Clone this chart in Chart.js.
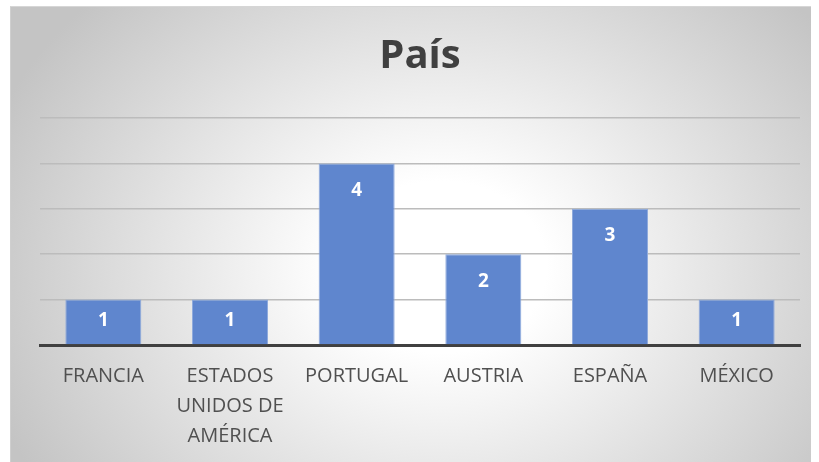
<!DOCTYPE html>
<html>
<head>
<meta charset="utf-8">
<script src="https://cdn.jsdelivr.net/npm/chart.js@4.4.1/dist/chart.umd.min.js"></script>
<style>
  html, body { margin: 0; padding: 0; background: #ffffff; width: 819px; height: 462px; overflow: hidden; }
  #box {
    position: absolute; left: 10px; top: 6px; width: 801px; height: 456px;
    border-left: 1px solid #cfcfcf; border-top: 1px solid #d6d6d6;
    box-sizing: border-box;
    background: radial-gradient(ellipse 480px 390px at 430px 260px, #ffffff 22%, #c4c4c4 100%);
  }
  canvas { display: block; }
</style>
</head>
<body>
<div id="box"><canvas id="c" width="800" height="455"></canvas></div>
<script>
const categories = ["FRANCIA", ["ESTADOS", "UNIDOS DE", "AMÉRICA"], "PORTUGAL", "AUSTRIA", "ESPAÑA", "MÉXICO"];
const values = [1, 1, 4, 2, 3, 1];
const titleText = "País";

const labelPlugin = {
  id: 'barLabels',
  afterDatasetsDraw(chart) {
    const ctx = chart.ctx;
    const meta = chart.getDatasetMeta(0);
    ctx.save();
    ctx.fillStyle = '#ffffff';
    ctx.font = 'bold 19px "Open Sans"';
    ctx.textAlign = 'center';
    ctx.textBaseline = 'middle';
    meta.data.forEach((el, i) => {
      const y = Math.min(el.y + 27, (el.y + el.base) / 2 - 1);
      ctx.fillText(String(values[i]), el.x, y);
    });
    ctx.restore();
  }
};

new Chart(document.getElementById('c'), {
  type: 'bar',
  data: {
    labels: categories,
    datasets: [{
      data: values,
      backgroundColor: '#5F86CE',
      borderColor: '#8FAADC',
      borderWidth: 1,
      barPercentage: 0.6,
      categoryPercentage: 1.0
    }]
  },
  options: {
    responsive: false,
    animation: false,
    devicePixelRatio: 1,
    layout: { padding: { left: 29, right: 11, top: 0, bottom: 0 } },
    plugins: {
      legend: { display: false },
      tooltip: { enabled: false },
      title: {
        display: true,
        text: titleText,
        color: '#404040',
        font: { family: '"Open Sans"', size: 40, weight: 'bold', lineHeight: 1.2 },
        padding: { top: 26, bottom: 37 }
      }
    },
    scales: {
      x: {
        z: 1,
        grid: { display: false, drawTicks: false },
        border: { display: true, color: '#404040', width: 3 },
        ticks: {
          color: '#505050',
          font: { family: '"Open Sans"', size: 20, lineHeight: 1.5 },
          padding: 16,
          maxRotation: 0,
          autoSkip: false
        },
        afterFit(scale) { scale.height = 117; }
      },
      y: {
        min: 0,
        max: 5,
        ticks: { display: false, stepSize: 1 },
        grid: { color: '#bcbcbc', lineWidth: 1.6, drawTicks: false },
        border: { display: false },
        afterFit(scale) { scale.width = 0; }
      }
    }
  },
  plugins: [labelPlugin]
});
</script>
</body>
</html>
